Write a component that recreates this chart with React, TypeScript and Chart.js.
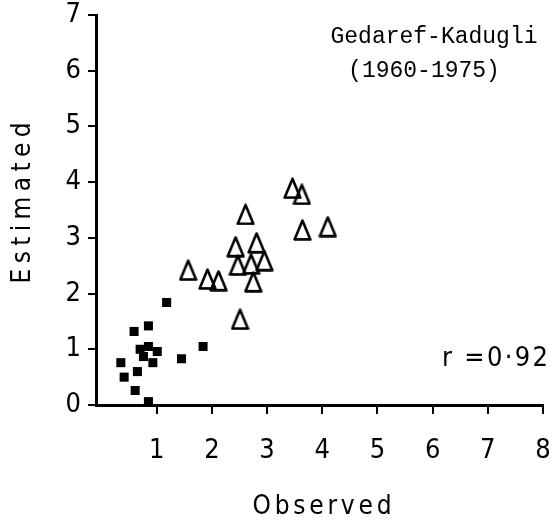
import React, { useEffect, useRef } from "react";
import { Chart, registerables } from "chart.js";

Chart.register(...registerables);

// Observed vs estimated values
const gedarefObserved = [1.18, 0.85, 0.59, 0.70, 0.85, 1.01, 0.76, 0.93, 1.84, 1.45, 0.35, 0.41, 0.65, 0.61, 0.85];
const gedarefEstimated = [1.84, 1.42, 1.32, 1.00, 1.05, 0.96, 0.87, 0.76, 1.05, 0.83, 0.76, 0.50, 0.60, 0.26, 0.06];

const kadugliObserved = [1.57, 1.92, 2.12, 2.61, 2.43, 2.47, 2.81, 2.71, 2.95, 2.75, 2.51, 3.46, 3.63, 3.64, 4.10];
const kadugliEstimated = [2.42, 2.26, 2.23, 3.42, 2.84, 2.51, 2.91, 2.53, 2.59, 2.21, 1.54, 3.89, 3.78, 3.14, 3.20];

const xTicks = [1, 2, 3, 4, 5, 6, 7, 8];
const yTicks = [0, 1, 2, 3, 4, 5, 6, 7];

const titleLine1 = "Gedaref-Kadugli";
const titleLine2 = "(1960-1975)";
const corrText = "r =0·92";
const xTitle = "Observed";
const yTitle = "Estimated";

const SANS = "'Liberation Sans Narrow', 'DejaVu Sans Condensed', 'DejaVu Sans', sans-serif";
const MONO = "'Liberation Mono', 'DejaVu Sans Mono', monospace";

function makeTriangle(): HTMLCanvasElement {
  const c = document.createElement("canvas");
  c.width = 19;
  c.height = 22;
  const g = c.getContext("2d")!;
  g.strokeStyle = "#000";
  g.lineWidth = 2.6;
  g.lineJoin = "round";
  g.beginPath();
  g.moveTo(9.5, 1.6);
  g.lineTo(1.6, 20.4);
  g.lineTo(17.4, 20.4);
  g.closePath();
  g.stroke();
  return c;
}

function spacedText(ctx: CanvasRenderingContext2D, text: string, left: number, cy: number, target: number) {
  (ctx as any).letterSpacing = "0px";
  const w = ctx.measureText(text).width;
  const sp = text.length > 1 ? (target - w) / (text.length - 1) : 0;
  (ctx as any).letterSpacing = `${sp}px`;
  ctx.textAlign = "left";
  ctx.textBaseline = "middle";
  ctx.fillText(text, left, cy);
  (ctx as any).letterSpacing = "0px";
}

const textPlugin = {
  id: "annotText",
  afterDraw(chart: any) {
    const ctx: CanvasRenderingContext2D = chart.ctx;
    ctx.save();
    ctx.fillStyle = "#000";
    ctx.font = `23px ${MONO}`;
    ctx.textAlign = "center";
    ctx.textBaseline = "alphabetic";
    ctx.fillText(titleLine1, 434, 43);
    ctx.fillText(titleLine2, 424, 77);

    ctx.font = `27px ${SANS}`;
    spacedText(ctx, corrText, 442, 359, 106);

    ctx.font = `26px ${SANS}`;
    spacedText(ctx, xTitle, 322 - 69.5, 507, 139);

    ctx.save();
    ctx.translate(23, 203);
    ctx.rotate(-Math.PI / 2);
    spacedText(ctx, yTitle, -80.5, 0, 161);
    ctx.restore();
    ctx.restore();
  },
};

const zeroPad = (s: any) => {
  s.paddingLeft = 0;
  s.paddingRight = 0;
  s.paddingTop = 0;
  s.paddingBottom = 0;
};

export default function App() {
  const ref = useRef<HTMLCanvasElement | null>(null);
  useEffect(() => {
    if (!ref.current) return;
    const tri = makeTriangle();
    const chart = new Chart(ref.current, {
      type: "scatter",
      data: {
        datasets: [
          {
            label: "Gedaref",
            data: gedarefObserved.map((x, i) => ({ x, y: gedarefEstimated[i] })),
            pointStyle: "rect",
            pointRadius: 6.4,
            backgroundColor: "#000",
            borderColor: "#000",
            borderWidth: 0,
          },
          {
            label: "Kadugli",
            data: kadugliObserved.map((x, i) => ({ x, y: kadugliEstimated[i] })),
            pointStyle: tri as any,
            pointRadius: 10,
            backgroundColor: "#000",
            borderColor: "#000",
          },
        ],
      },
      options: {
        animation: false,
        responsive: false,
        layout: { padding: { top: 15, right: 11, left: 0, bottom: 0 } },
        plugins: { legend: { display: false }, tooltip: { enabled: false } },
        scales: {
          x: {
            type: "linear",
            min: -0.1,
            max: 8,
            afterBuildTicks: (s: any) => {
              s.ticks = xTicks.map((v) => ({ value: v }));
            },
            afterFit: (s: any) => {
              s.height = 119;
              zeroPad(s);
            },
            border: { display: true, color: "#000", width: 3 },
            grid: { display: true, drawOnChartArea: false, drawTicks: true, tickLength: 9, lineWidth: 2, color: "#000" },
            ticks: { color: "#000", font: { family: SANS, size: 27 }, padding: 21, maxRotation: 0 },
          },
          y: {
            type: "linear",
            min: 0,
            max: 7,
            afterBuildTicks: (s: any) => {
              s.ticks = yTicks.map((v) => ({ value: v }));
            },
            afterFit: (s: any) => {
              s.width = 96;
              zeroPad(s);
            },
            border: { display: true, color: "#000", width: 3 },
            grid: { display: true, drawOnChartArea: false, drawTicks: true, tickLength: 8, lineWidth: 2, color: "#000" },
            ticks: { color: "#000", font: { family: SANS, size: 27 }, padding: 7 },
          },
        },
      },
      plugins: [textPlugin],
    });
    return () => chart.destroy();
  }, []);
  return (
    <div style={{ position: "absolute", left: 0, top: 0, width: 554, height: 524, background: "#fff" }}>
      <canvas ref={ref} width={554} height={524} />
    </div>
  );
}
